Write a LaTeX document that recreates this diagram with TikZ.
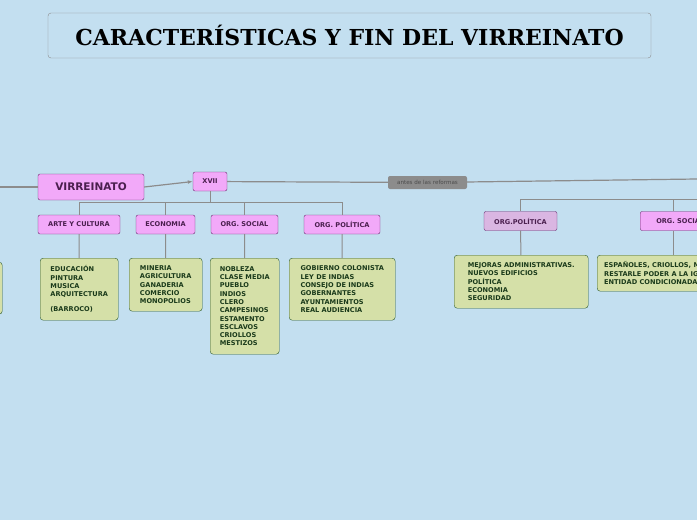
\documentclass[tikz,border=0pt]{standalone}
\usepackage{fontspec}
\setmainfont{DejaVu Sans}
\newfontfamily\titlefont{DejaVu Serif}
\usetikzlibrary{arrows.meta}
\definecolor{bgblue}{HTML}{C3DFF0}
\definecolor{pinkfill}{HTML}{F2A9F9}
\definecolor{lilafill}{HTML}{DAB6E2}
\definecolor{pinkline}{HTML}{6A2C70}
\definecolor{leaffill}{HTML}{D5E0A8}
\definecolor{leafline}{HTML}{2E5A2E}
\definecolor{leaftext}{HTML}{1A3A1A}
\definecolor{linkgray}{HTML}{8C8C8C}
\tikzset{
  topic/.style={draw=pinkline, fill=pinkfill, rounded corners=2pt, text=pinkline!70!black,
    font=\bfseries\fontsize{6.6}{7}\selectfont, inner sep=0pt, minimum height=19pt},
  leaf/.style={draw=leafline, fill=leaffill, rounded corners=3pt, text=leaftext, anchor=north west,
    font=\bfseries\fontsize{6.6}{8.3}\selectfont, align=left, inner xsep=7pt, inner ysep=0pt},
  link/.style={draw=linkgray, line width=1.2pt},
}
\begin{document}
\begin{tikzpicture}[x=1pt, y=-1pt]
  \useasboundingbox (0,0) rectangle (697,520);
  \fill[bgblue] (0,0) rectangle (697,520);
  \clip (0,0) rectangle (697,520);

  % title
  \node[draw=linkgray, fill=bgblue, rounded corners=3pt, minimum width=603pt, minimum height=45pt,
    font=\titlefont\bfseries\fontsize{22}{24}\selectfont] (title) at (349.5,35.5) {CARACTERÍSTICAS Y FIN DEL VIRREINATO};

  % main line
  \node[topic, minimum width=106pt, minimum height=26pt, font=\bfseries\fontsize{10.5}{12}\selectfont] (virr) at (91,187) {VIRREINATO};
  \node[topic, minimum width=34pt] (xvii) at (210,181.5) {XVII};
  \node[fill=linkgray, rounded corners=2pt, minimum width=79pt, minimum height=13pt, inner sep=0pt,
    text=black!70, font=\fontsize{5.6}{6}\selectfont] (antes) at (427.5,182.5) {antes de las reformas};
  \coordinate (lft) at (0,187);
  \coordinate (rgt) at (697,179);
  \draw[link] (lft) -- (virr);
  \draw[link, -{Latex[length=5pt]}] (virr.east) -- (xvii.west);
  \draw[link] (xvii) -- (antes) -- (rgt);

  % XVII children
  \node[topic, minimum width=82pt] (arte) at (79,224.5) {ARTE Y CULTURA};
  \node[topic, minimum width=59pt] (econ) at (165.5,224.5) {ECONOMIA};
  \node[topic, minimum width=67pt] (soc) at (244.5,224.5) {ORG. SOCIAL};
  \node[topic, minimum width=76pt] (pol) at (342,224.5) {ORG. POLÍTICA};
  \draw[draw=linkgray, line width=1pt] (xvii.south) |- (79,202) -- (arte.north);
  \draw[draw=linkgray, line width=1pt] (210,202) -| (econ.north);
  \draw[draw=linkgray, line width=1pt] (210,202) -| (soc.north);
  \draw[draw=linkgray, line width=1pt] (210,202) -| (pol.north);

  \node[leaf, minimum width=78pt, minimum height=62pt] (arteL) at (40,258)
    {EDUCACIÓN\\PINTURA\\MUSICA\\ARQUITECTURA\\[7pt](BARROCO)};
  \node[leaf, minimum width=73pt, minimum height=53pt] (econL) at (129,258)
    {MINERIA\\AGRICULTURA\\GANADERIA\\COMERCIO\\MONOPOLIOS};
  \node[leaf, minimum width=69pt, minimum height=96pt] (socL) at (210,258)
    {NOBLEZA\\CLASE MEDIA\\PUEBLO\\INDIOS\\CLERO\\CAMPESINOS\\ESTAMENTO\\ESCLAVOS\\CRIOLLOS\\MESTIZOS};
  \node[leaf, minimum width=106pt, minimum height=62pt] (polL) at (289,258)
    {GOBIERNO COLONISTA\\LEY DE INDIAS\\CONSEJO DE INDIAS\\GOBERNANTES\\AYUNTAMIENTOS\\REAL AUDIENCIA};
  \draw[draw=linkgray, line width=1pt] (arte) -- (arteL);
  \draw[draw=linkgray, line width=1pt] (econ) -- (econL);
  \draw[draw=linkgray, line width=1pt] (soc) -- (socL);
  \draw[draw=linkgray, line width=1pt] (pol) -- (polL);

  % cut-off leaf on the left
  \node[leaf, minimum width=20pt, minimum height=52pt] (cutL) at (-18,262) {};

  % right branch
  \node[topic, fill=lilafill, minimum width=73pt] (polR) at (520.5,221) {ORG.POLÍTICA};
  \node[topic, minimum width=80pt, anchor=west] (socR) at (640,221) {ORG. SOCIAL};
  \coordinate (rbar) at (697,199);
  \draw[draw=linkgray, line width=1pt] (rbar) -| (polR.north);
  \draw[draw=linkgray, line width=1pt] (673,199) -- (673,211);
  \node[leaf, minimum width=134pt, minimum height=53pt] (polRL) at (454,255)
    {MEJORAS ADMINISTRATIVAS.\\NUEVOS EDIFICIOS\\POLÍTICA\\ECONOMIA\\SEGURIDAD};
  \node[leaf, minimum width=140pt, minimum height=36pt] (socRL) at (597,255)
    {ESPAÑOLES, CRIOLLOS, MESTIZOS\\RESTARLE PODER A LA IGLESIA\\ENTIDAD CONDICIONADA};
  \draw[draw=linkgray, line width=1pt] (polR) -- (polRL);
  \draw[draw=linkgray, line width=1pt] (673,231) -- (673,255);
\end{tikzpicture}
\end{document}
